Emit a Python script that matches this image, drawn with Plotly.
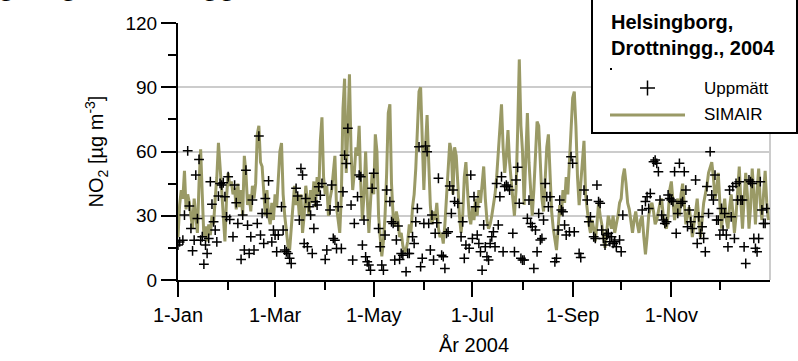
import pandas as pd
import plotly.graph_objects as go

# ---- data -------------------------------------------------------------
year_start = "2004-01-01"

# SIMAIR modelled daily NO2 (µg/m3), one value per day of 2004
simair_jan = [20,35,42,38,51,33,40,36,30,24,38,28,22,45,61,40,20,25,18,26,21,30,26,38,48,64,55,42,30,18,38]
simair_feb = [50,44,46,40,43,33,45,34,42,30,58,50,35,40,32,44,38,45,68,72,55,53,40,30,42,30,26,36,28]
simair_mar = [40,34,46,60,64,40,30,22,16,14,25,38,44,35,40,30,40,22,30,44,38,30,42,36,46,34,48,40,65,76,48]
simair_apr = [40,44,30,38,42,50,58,34,28,22,40,80,94,50,70,96,60,42,50,62,58,72,45,28,40,60,38,22,36,50]
simair_may = [40,68,60,30,20,11,18,30,50,78,82,45,30,25,32,28,20,22,16,13,14,18,26,22,34,40,52,70,88,90,60]
simair_jun = [42,62,77,55,35,26,32,28,36,24,20,22,17,26,38,52,64,60,40,62,58,45,30,22,30,48,55,42,30,26]
simair_jul = [34,28,38,30,42,36,45,53,38,28,24,26,30,35,40,48,60,75,82,62,50,58,70,55,45,38,30,42,70,103,72]
simair_aug = [60,35,60,78,55,40,30,42,60,74,72,50,38,32,48,62,68,45,32,24,18,14,24,35,30,42,36,48,40,55,70]
simair_sep = [85,88,72,48,35,45,58,65,40,31,26,22,28,24,18,26,36,30,26,20,15,22,30,27,24,30,22,26,30,36]
simair_oct = [38,48,52,45,36,33,26,22,28,32,26,22,28,30,20,12,20,30,34,36,32,26,28,32,36,38,30,26,24,30,42]
simair_nov = [46,35,28,34,38,30,40,45,35,26,30,34,28,20,26,32,38,28,20,28,36,40,44,50,52,55,48,38,42,50]
simair_dec = [36,24,32,38,28,24,34,40,32,22,30,44,53,36,24,38,50,40,24,34,52,40,26,42,52,36,28,40,51,36,28]

# measured (Uppmätt) daily NO2: day of year (0 = 1 Jan) and value
meas_day = [
    0,1,3,4,6,7,8,9,10,11,12,13,14,15,16,17,18,19,20,21,22,23,24,25,26,27,28,29,30,
    31,32,34,35,36,37,39,40,41,42,43,44,45,46,47,49,50,51,52,53,54,55,56,58,59,
    60,61,62,64,65,66,67,68,69,70,73,74,75,76,77,78,79,80,81,82,83,84,85,86,87,88,89,
    91,92,94,95,96,97,98,99,101,102,103,104,105,107,108,109,111,112,113,114,115,116,117,118,119,120,
    121,124,125,126,127,128,129,131,132,133,134,135,136,137,138,139,141,142,143,145,146,147,148,149,150,151,
    152,153,154,155,156,157,158,159,160,161,163,164,165,166,167,168,169,170,171,173,175,176,177,178,180,181,
    182,183,184,185,186,187,188,189,190,191,192,193,194,195,196,197,198,199,200,201,202,203,204,205,207,208,209,210,211,212,
    213,214,216,217,218,219,220,221,222,223,224,225,226,227,228,229,230,233,234,235,236,237,238,239,240,242,243,
    244,245,248,249,251,253,254,255,257,258,259,260,261,262,263,264,265,266,267,268,269,270,271,273,
    274,275,287,289,290,291,292,294,295,296,297,298,299,300,301,302,303,304,
    305,306,307,308,309,310,311,312,313,314,315,316,317,318,320,321,322,323,324,325,326,327,328,329,330,331,332,333,334,
    335,336,337,338,339,340,341,342,343,344,345,346,347,348,349,350,351,353,354,355,356,357,358,359,360,361,362,363,364,
]
meas_val = [
    16.3,17.8,18.6,30.3,60.3,34.5,24.1,13.6,18.6,49.0,28.7,56.3,18.6,20.2,7.4,16.3,12.4,19.4,45.9,35.4,27.2,23.3,17.8,39.2,45.1,44.3,45.4,38.9,29.5,
    48.2,28.3,20.2,44.3,36.1,26.4,9.6,30.3,14.0,51.3,25.6,12.4,20.2,37.3,14.0,26.4,67.2,21.0,31.1,17.1,38.1,31.1,46.3,17.8,23.3,
    21.0,13.2,21.0,34.2,23.3,14.0,13.2,12.4,10.1,7.7,42.8,39.2,28.0,52.1,49.0,17.1,38.1,15.5,34.2,30.3,12.4,24.1,36.5,35.0,43.5,39.6,45.1,
    9.6,14.0,32.7,44.3,19.4,18.6,14.7,34.2,14.7,41.2,58.3,54.4,70.8,35.0,9.3,26.4,38.9,49.0,48.2,16.3,28.0,10.8,8.5,7.0,4.6,42.8,
    49.8,24.1,15.5,7.0,4.6,21.0,42.0,36.6,27.2,26.4,9.3,18.7,25.2,9.6,12.4,11.6,3.9,12.4,12.4,20.2,17.1,27.2,33.4,62.2,6.2,10.1,
    26.4,62.6,59.9,26.4,14.0,30.3,9.3,21.8,26.7,47.5,11.6,10.9,5.4,21.8,22.5,43.9,31.1,42.0,36.6,35.8,20.2,27.2,10.1,16.3,14.8,49.0,
    19.4,38.9,34.2,21.0,17.1,13.2,4.6,25.7,15.5,10.9,9.3,17.1,20.2,22.5,15.5,45.1,25.7,38.9,48.2,13.2,43.6,44.3,43.6,42.0,21.8,13.2,46.7,52.6,35.8,10.1,
    9.3,9.3,28.8,37.3,26.4,24.9,5.4,23.3,13.2,31.1,18.7,19.4,28.0,45.1,38.9,34.2,38.9,8.5,10.1,23.3,37.3,32.7,31.9,25.7,21.0,22.5,57.6,
    54.5,22.5,12.4,10.5,42.0,37.3,27.2,29.5,20.2,19.4,44.3,36.6,35.8,23.3,19.4,16.3,21.0,21.8,17.9,20.2,17.1,17.9,15.5,18.7,
    13.2,30.3,32.7,36.6,38.9,33.4,40.4,55.2,56.0,54.5,50.6,37.3,30.3,28.0,26.4,27.2,39.7,38.1,
    37.3,36.6,50.6,21.8,31.1,54.5,35.8,36.6,50.6,42.0,24.9,32.7,27.2,24.1,46.7,17.1,29.5,21.8,24.9,19.4,13.2,43.6,31.1,59.9,39.7,37.3,49.0,28.0,28.0,
    21.0,33.4,23.3,31.1,21.0,15.5,42.0,29.5,43.6,19.4,45.1,37.3,45.9,37.3,37.3,15.5,7.7,46.7,45.9,45.1,19.4,14.8,13.2,19.4,45.9,32.7,26.4,26.4,33.4,
]

x_tick_dates = ["2004-01-01", "2004-03-01", "2004-05-01", "2004-07-01", "2004-09-01", "2004-11-01"]
x_tick_text = ["1-Jan", "1-Mar", "1-May", "1-Jul", "1-Sep", "1-Nov"]
x_minor_dates = ["2004-02-01", "2004-04-01", "2004-06-01", "2004-08-01", "2004-10-01", "2004-12-01"]
y_ticks = [0, 30, 60, 90, 120]
y_minor = [15, 45, 75, 105]

legend_title = "Helsingborg,<br>Drottningg., 2004"
series_names = ["Uppmätt", "SIMAIR"]

# ---- build ------------------------------------------------------------
simair = (simair_jan + simair_feb + simair_mar + simair_apr + simair_may + simair_jun +
          simair_jul + simair_aug + simair_sep + simair_oct + simair_nov + simair_dec)
base = pd.Timestamp(year_start)
sim_dates = [base + pd.Timedelta(days=i) for i in range(len(simair))]
meas_dates = [base + pd.Timedelta(days=d) for d in meas_day]

OLIVE = "#9a9a66"
FONT = "Arial, Liberation Sans, sans-serif"

fig = go.Figure()
fig.add_trace(go.Scatter(x=sim_dates, y=simair, mode="lines", name=series_names[1],
                         line=dict(color=OLIVE, width=3), showlegend=False))
fig.add_trace(go.Scatter(x=meas_dates, y=meas_val, mode="markers", name=series_names[0],
                         marker=dict(symbol="cross-thin", size=7, line=dict(color="black", width=1.5)),
                         showlegend=False))

L, R, T, B = 178, 28, 23, 81
W, H = 798, 361
pw, ph = W - L - R, H - T - B


def px(x):
    return (x - L) / pw


def py(y):
    return (H - B - y) / ph


shapes = [
    # right light frame line
    dict(type="line", xref="paper", yref="paper", x0=1, x1=1, y0=0, y1=1,
         line=dict(color="#cccccc", width=2), layer="below"),
    # legend box
    dict(type="rect", xref="paper", yref="paper", x0=px(592), x1=px(797), y0=py(133), y1=py(-6),
         fillcolor="white", line=dict(color="black", width=2), layer="above"),
    # legend samples
    dict(type="line", xref="paper", yref="paper", x0=px(640), x1=px(655), y0=py(88), y1=py(88),
         line=dict(color="black", width=1.5), layer="above"),
    dict(type="line", xref="paper", yref="paper", x0=px(647.5), x1=px(647.5), y0=py(80.5), y1=py(95.5),
         line=dict(color="black", width=1.5), layer="above"),
    dict(type="line", xref="paper", yref="paper", x0=px(610), x1=px(685), y0=py(115), y1=py(115),
         line=dict(color=OLIVE, width=3), layer="above"),
    dict(type="rect", xref="paper", yref="paper", x0=px(610), x1=px(612), y0=py(70), y1=py(68),
         fillcolor="black", line=dict(width=0), layer="above"),
]

annotations = [
    dict(text="<b>" + legend_title + "</b>", xref="paper", yref="paper", x=px(609), y=py(9),
         xanchor="left", yanchor="top", align="left", showarrow=False,
         font=dict(family=FONT, size=20, color="black")),
    dict(text=series_names[0], xref="paper", yref="paper", x=px(702), y=py(88),
         xanchor="left", yanchor="middle", showarrow=False,
         font=dict(family=FONT, size=17, color="black")),
    dict(text=series_names[1], xref="paper", yref="paper", x=px(702), y=py(115),
         xanchor="left", yanchor="middle", showarrow=False,
         font=dict(family=FONT, size=17, color="black")),
    # page heading, mostly cut off above the picture
    dict(text="<b>Helsingborg, Drottninggatan</b>", xref="paper", yref="paper", x=px(-88), y=py(2.5),
         xanchor="left", yanchor="bottom", showarrow=False,
         font=dict(family=FONT, size=28, color="black")),
]

fig.update_layout(
    width=W, height=H, autosize=False,
    margin=dict(l=L, r=R, t=T, b=B),
    paper_bgcolor="white", plot_bgcolor="white",
    font=dict(family=FONT, size=18, color="black"),
    shapes=shapes, annotations=annotations,
    xaxis=dict(
        type="date", automargin=False,
        range=[base, base + pd.Timedelta(days=366)],
        showline=True, linecolor="black", linewidth=2,
        ticks="outside", ticklen=15, tickwidth=2, tickcolor="black",
        tickmode="array", tickvals=x_tick_dates, ticktext=x_tick_text,
        minor=dict(tickmode="array", tickvals=x_minor_dates, ticks="outside", ticklen=8,
                   tickwidth=2, tickcolor="black", showgrid=False),
        showgrid=False, zeroline=False,
        tickfont=dict(size=20), ticklabelstandoff=1,
        title=dict(text="År 2004", font=dict(size=20), standoff=13),
    ),
    yaxis=dict(
        range=[0, 120], automargin=False,
        showline=True, linecolor="black", linewidth=2,
        ticks="outside", ticklen=15, tickwidth=2, tickcolor="black",
        tickmode="array", tickvals=y_ticks,
        minor=dict(tickmode="array", tickvals=y_minor, ticks="outside", ticklen=8,
                   tickwidth=2, tickcolor="black", showgrid=False),
        showgrid=True, gridcolor="#cccccc", gridwidth=2, zeroline=False,
        tickfont=dict(size=19),
        title=dict(text="NO<sub>2</sub> [µg m<sup>-3</sup>]", font=dict(size=20), standoff=16),
    ),
)

fig.write_html("out.html", config={"displayModeBar": False},
               post_script="document.body.style.margin='0';")
